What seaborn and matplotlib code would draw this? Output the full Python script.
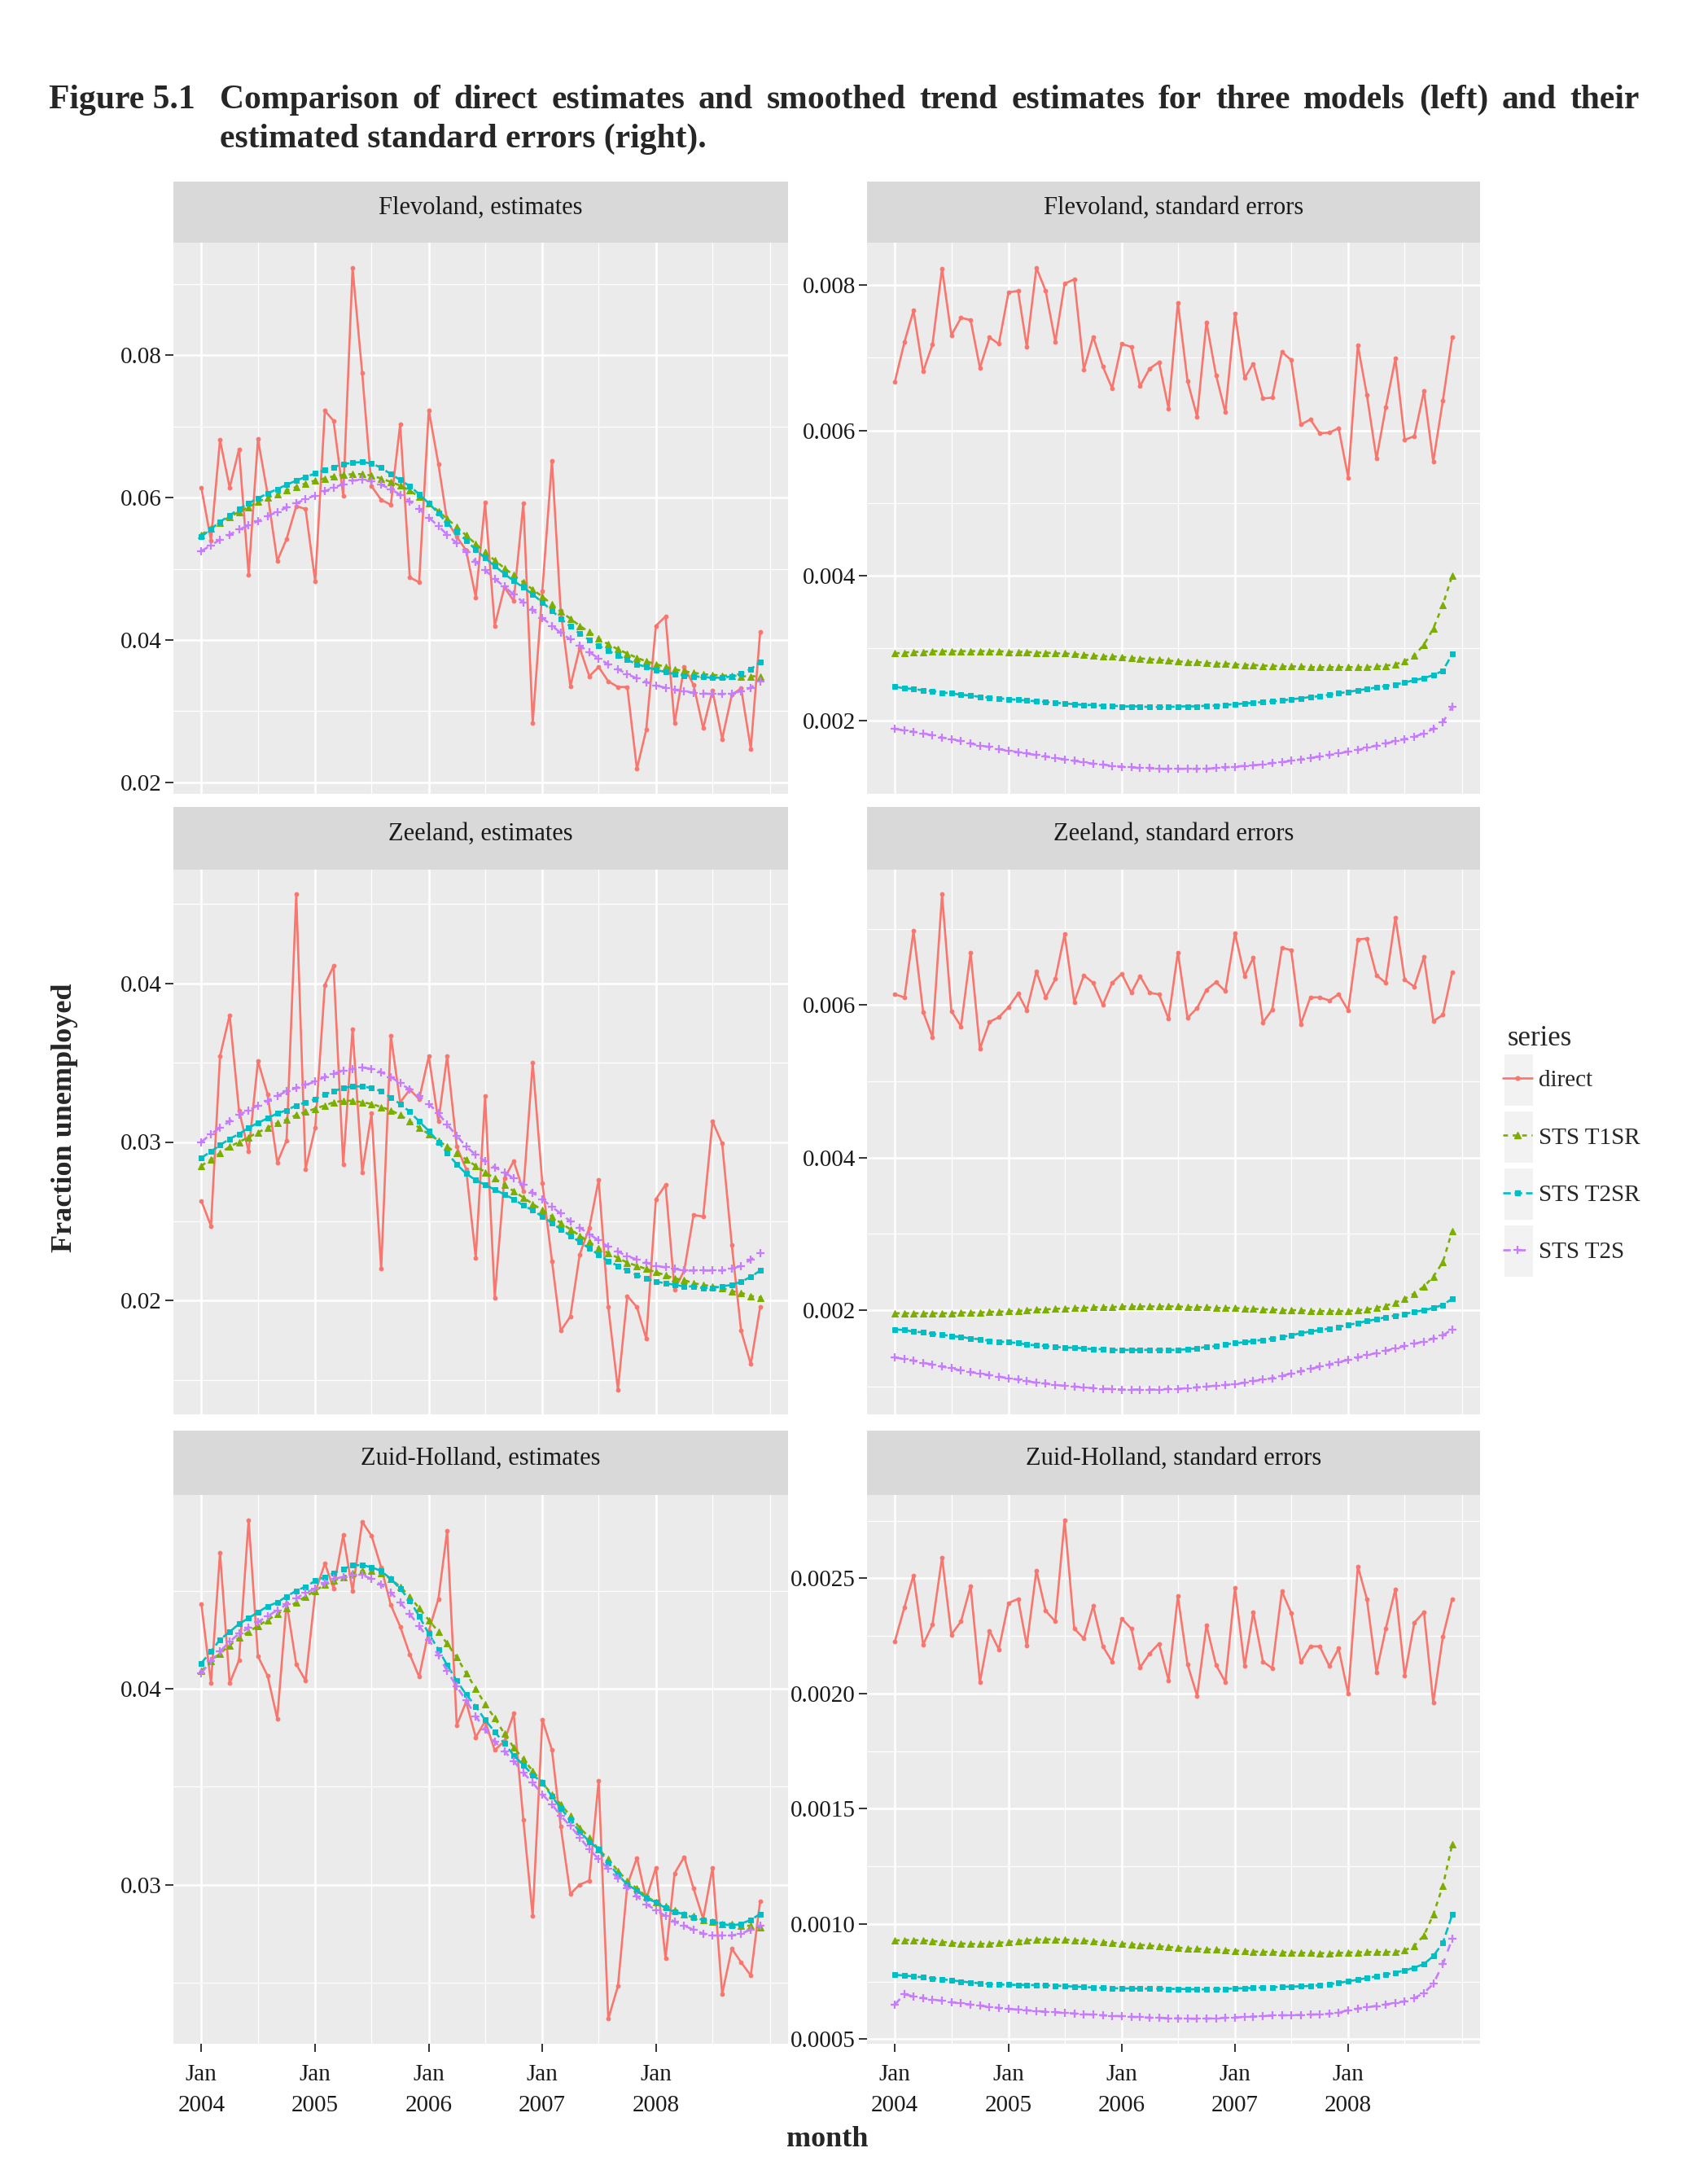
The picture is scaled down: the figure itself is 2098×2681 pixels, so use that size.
import matplotlib
matplotlib.use("Agg")
import matplotlib.pyplot as plt
from matplotlib.lines import Line2D
from matplotlib.patches import Rectangle
import seaborn as sns
import pandas as pd

W, H = 2098, 2681

months = pd.date_range("2004-01-01", periods=60, freq="MS")
series_names = ["direct", "STS T1SR", "STS T2SR", "STS T2S"]
series_colors = ["#F8766D", "#7CAE00", "#00BFC4", "#C77CFF"]

x_breaks = ["2004-01-01", "2005-01-01", "2006-01-01", "2007-01-01", "2008-01-01"]
x_labels = ["Jan\n2004", "Jan\n2005", "Jan\n2006", "Jan\n2007", "Jan\n2008"]
x_minor = ["2004-07-01", "2005-07-01", "2006-07-01", "2007-07-01", "2008-07-01", "2009-01-01"]

# ---- Flevoland ----
fle_est_direct = [0.0614, 0.0540, 0.0681, 0.0614, 0.0668, 0.0492, 0.0682, 0.0605, 0.0511, 0.0542,
                  0.0588, 0.0584, 0.0482, 0.0722, 0.0708, 0.0603, 0.0923, 0.0775, 0.0616, 0.0597,
                  0.0590, 0.0703, 0.0488, 0.0481, 0.0723, 0.0647, 0.0567, 0.0545, 0.0526, 0.0460,
                  0.0593, 0.0420, 0.0474, 0.0455, 0.0592, 0.0283, 0.0469, 0.0652, 0.0441, 0.0335,
                  0.0389, 0.0349, 0.0362, 0.0342, 0.0334, 0.0334, 0.0219, 0.0274, 0.0420, 0.0433,
                  0.0283, 0.0362, 0.0337, 0.0276, 0.0329, 0.0261, 0.0323, 0.0332, 0.0247, 0.0411]
fle_est_t1sr = [0.0548, 0.0557, 0.0565, 0.0573, 0.0580, 0.0587, 0.0594, 0.0600, 0.0605, 0.0610,
                0.0615, 0.0620, 0.0624, 0.0627, 0.0630, 0.0632, 0.0633, 0.0633, 0.0631, 0.0627,
                0.0622, 0.0617, 0.0610, 0.0601, 0.0592, 0.0581, 0.0570, 0.0559, 0.0547, 0.0535,
                0.0523, 0.0512, 0.0501, 0.0491, 0.0481, 0.0471, 0.0461, 0.0450, 0.0440, 0.0430,
                0.0420, 0.0411, 0.0402, 0.0394, 0.0387, 0.0381, 0.0375, 0.0370, 0.0366, 0.0362,
                0.0359, 0.0356, 0.0354, 0.0352, 0.0351, 0.0350, 0.0350, 0.0349, 0.0349, 0.0349]
fle_est_t2sr = [0.0545, 0.0556, 0.0566, 0.0575, 0.0584, 0.0592, 0.0599, 0.0606, 0.0612, 0.0618,
                0.0624, 0.0629, 0.0634, 0.0639, 0.0643, 0.0647, 0.0649, 0.0650, 0.0648, 0.0642,
                0.0633, 0.0625, 0.0616, 0.0605, 0.0592, 0.0578, 0.0564, 0.0552, 0.0540, 0.0527,
                0.0515, 0.0504, 0.0493, 0.0483, 0.0474, 0.0464, 0.0453, 0.0441, 0.0430, 0.0419,
                0.0409, 0.0400, 0.0392, 0.0385, 0.0378, 0.0372, 0.0366, 0.0362, 0.0358, 0.0355,
                0.0352, 0.0350, 0.0349, 0.0348, 0.0347, 0.0347, 0.0349, 0.0353, 0.0359, 0.0369]
fle_est_t2s = [0.0525, 0.0533, 0.0541, 0.0548, 0.0555, 0.0561, 0.0567, 0.0574, 0.0580, 0.0586,
               0.0592, 0.0598, 0.0603, 0.0609, 0.0614, 0.0619, 0.0624, 0.0625, 0.0623, 0.0618,
               0.0612, 0.0604, 0.0595, 0.0584, 0.0572, 0.0560, 0.0548, 0.0536, 0.0523, 0.0510,
               0.0498, 0.0486, 0.0475, 0.0464, 0.0453, 0.0442, 0.0431, 0.0420, 0.0410, 0.0401,
               0.0392, 0.0383, 0.0374, 0.0366, 0.0359, 0.0352, 0.0346, 0.0341, 0.0336, 0.0333,
               0.0330, 0.0328, 0.0326, 0.0325, 0.0324, 0.0324, 0.0325, 0.0328, 0.0333, 0.0342]

fle_se_direct = [0.00667, 0.00722, 0.00765, 0.00681, 0.00718, 0.00823, 0.00731, 0.00755, 0.00752, 0.00686,
                 0.00728, 0.00719, 0.00790, 0.00792, 0.00715, 0.00824, 0.00792, 0.00722, 0.00802, 0.00808,
                 0.00684, 0.00729, 0.00688, 0.00658, 0.00719, 0.00715, 0.00661, 0.00685, 0.00694, 0.00630,
                 0.00776, 0.00668, 0.00619, 0.00749, 0.00676, 0.00625, 0.00761, 0.00672, 0.00692, 0.00644,
                 0.00645, 0.00708, 0.00697, 0.00608, 0.00615, 0.00596, 0.00597, 0.00603, 0.00535, 0.00717,
                 0.00649, 0.00561, 0.00632, 0.00699, 0.00587, 0.00592, 0.00654, 0.00557, 0.00641, 0.00728]
fle_se_t1sr = [0.00293, 0.00294, 0.00295, 0.00295, 0.00296, 0.00296, 0.00296, 0.00296, 0.00296, 0.00296,
               0.00296, 0.00296, 0.00295, 0.00295, 0.00295, 0.00294, 0.00294, 0.00293, 0.00293, 0.00292,
               0.00291, 0.00290, 0.00289, 0.00289, 0.00288, 0.00287, 0.00286, 0.00285, 0.00284, 0.00283,
               0.00282, 0.00281, 0.00281, 0.00280, 0.00279, 0.00279, 0.00278, 0.00277, 0.00277, 0.00276,
               0.00276, 0.00275, 0.00275, 0.00275, 0.00274, 0.00274, 0.00274, 0.00274, 0.00274, 0.00274,
               0.00274, 0.00275, 0.00276, 0.00278, 0.00282, 0.00290, 0.00305, 0.00327, 0.00360, 0.00400]
fle_se_t2sr = [0.00247, 0.00245, 0.00244, 0.00242, 0.00241, 0.00239, 0.00238, 0.00236, 0.00235, 0.00233,
               0.00232, 0.00231, 0.00230, 0.00229, 0.00228, 0.00227, 0.00226, 0.00225, 0.00224, 0.00223,
               0.00222, 0.00222, 0.00221, 0.00221, 0.00220, 0.00220, 0.00220, 0.00219, 0.00219, 0.00219,
               0.00220, 0.00220, 0.00220, 0.00221, 0.00221, 0.00222, 0.00223, 0.00224, 0.00225, 0.00226,
               0.00227, 0.00228, 0.00230, 0.00231, 0.00233, 0.00234, 0.00236, 0.00238, 0.00240, 0.00242,
               0.00244, 0.00246, 0.00248, 0.00250, 0.00253, 0.00256, 0.00259, 0.00263, 0.00269, 0.00292]
fle_se_t2s = [0.00189, 0.00187, 0.00185, 0.00183, 0.00180, 0.00177, 0.00175, 0.00172, 0.00169, 0.00166,
              0.00164, 0.00161, 0.00159, 0.00157, 0.00155, 0.00153, 0.00151, 0.00149, 0.00147, 0.00145,
              0.00143, 0.00141, 0.00140, 0.00138, 0.00137, 0.00136, 0.00135, 0.00135, 0.00134, 0.00134,
              0.00134, 0.00134, 0.00134, 0.00134, 0.00135, 0.00136, 0.00137, 0.00138, 0.00139, 0.00140,
              0.00142, 0.00143, 0.00145, 0.00147, 0.00149, 0.00151, 0.00153, 0.00155, 0.00158, 0.00160,
              0.00163, 0.00166, 0.00169, 0.00172, 0.00175, 0.00178, 0.00183, 0.00189, 0.00198, 0.00220]

# ---- Zeeland ----
zee_est_direct = [0.0263, 0.0247, 0.0354, 0.0380, 0.0320, 0.0294, 0.0351, 0.0330, 0.0287, 0.0301,
                  0.0456, 0.0283, 0.0309, 0.0399, 0.0411, 0.0286, 0.0371, 0.0281, 0.0318, 0.0220,
                  0.0367, 0.0325, 0.0333, 0.0327, 0.0354, 0.0313, 0.0354, 0.0297, 0.0283, 0.0227,
                  0.0329, 0.0202, 0.0277, 0.0288, 0.0269, 0.0350, 0.0274, 0.0225, 0.0181, 0.0190,
                  0.0229, 0.0246, 0.0276, 0.0196, 0.0144, 0.0203, 0.0196, 0.0176, 0.0264, 0.0273,
                  0.0207, 0.0219, 0.0254, 0.0253, 0.0313, 0.0299, 0.0235, 0.0181, 0.0160, 0.0196]
zee_est_t1sr = [0.0285, 0.0289, 0.0293, 0.0297, 0.0300, 0.0303, 0.0306, 0.0309, 0.0312, 0.0314,
                0.0317, 0.0319, 0.0321, 0.0323, 0.0325, 0.0326, 0.0326, 0.0325, 0.0324, 0.0322,
                0.0320, 0.0317, 0.0313, 0.0309, 0.0305, 0.0301, 0.0297, 0.0293, 0.0289, 0.0285,
                0.0281, 0.0277, 0.0273, 0.0269, 0.0265, 0.0261, 0.0257, 0.0253, 0.0249, 0.0245,
                0.0241, 0.0237, 0.0233, 0.0230, 0.0227, 0.0224, 0.0222, 0.0220, 0.0218, 0.0216,
                0.0214, 0.0213, 0.0211, 0.0210, 0.0209, 0.0208, 0.0206, 0.0205, 0.0203, 0.0202]
zee_est_t2sr = [0.0290, 0.0294, 0.0298, 0.0302, 0.0305, 0.0309, 0.0312, 0.0315, 0.0318, 0.0320,
                0.0323, 0.0325, 0.0327, 0.0330, 0.0332, 0.0334, 0.0335, 0.0335, 0.0334, 0.0332,
                0.0328, 0.0324, 0.0319, 0.0313, 0.0307, 0.0300, 0.0293, 0.0286, 0.0280, 0.0276,
                0.0273, 0.0270, 0.0267, 0.0264, 0.0260, 0.0257, 0.0253, 0.0249, 0.0245, 0.0241,
                0.0237, 0.0233, 0.0229, 0.0225, 0.0222, 0.0219, 0.0216, 0.0214, 0.0212, 0.0211,
                0.0210, 0.0209, 0.0209, 0.0208, 0.0208, 0.0209, 0.0210, 0.0212, 0.0215, 0.0219]
zee_est_t2s = [0.0300, 0.0305, 0.0309, 0.0313, 0.0317, 0.0320, 0.0323, 0.0326, 0.0329, 0.0332,
               0.0334, 0.0336, 0.0338, 0.0341, 0.0343, 0.0345, 0.0346, 0.0347, 0.0346, 0.0344,
               0.0341, 0.0337, 0.0333, 0.0329, 0.0324, 0.0318, 0.0311, 0.0304, 0.0297, 0.0292,
               0.0288, 0.0284, 0.0281, 0.0277, 0.0273, 0.0268, 0.0264, 0.0259, 0.0255, 0.0250,
               0.0246, 0.0242, 0.0238, 0.0234, 0.0231, 0.0228, 0.0226, 0.0224, 0.0222, 0.0221,
               0.0220, 0.0219, 0.0219, 0.0219, 0.0219, 0.0219, 0.0220, 0.0222, 0.0226, 0.0230]

zee_se_direct = [0.00614, 0.00610, 0.00697, 0.00591, 0.00558, 0.00745, 0.00592, 0.00572, 0.00669, 0.00543,
                 0.00578, 0.00584, 0.00597, 0.00615, 0.00593, 0.00644, 0.00610, 0.00634, 0.00693, 0.00604,
                 0.00639, 0.00629, 0.00600, 0.00629, 0.00641, 0.00616, 0.00638, 0.00616, 0.00614, 0.00582,
                 0.00669, 0.00583, 0.00596, 0.00620, 0.00630, 0.00618, 0.00694, 0.00638, 0.00662, 0.00577,
                 0.00594, 0.00675, 0.00672, 0.00575, 0.00610, 0.00610, 0.00606, 0.00614, 0.00593, 0.00686,
                 0.00687, 0.00639, 0.00629, 0.00715, 0.00633, 0.00624, 0.00663, 0.00579, 0.00587, 0.00643]
zee_se_t1sr = [0.00196, 0.00196, 0.00196, 0.00196, 0.00196, 0.00196, 0.00196, 0.00197, 0.00197, 0.00197,
               0.00198, 0.00198, 0.00199, 0.00199, 0.00200, 0.00201, 0.00201, 0.00202, 0.00202, 0.00203,
               0.00203, 0.00204, 0.00204, 0.00204, 0.00205, 0.00205, 0.00205, 0.00205, 0.00205, 0.00205,
               0.00205, 0.00204, 0.00204, 0.00204, 0.00203, 0.00203, 0.00203, 0.00202, 0.00202, 0.00201,
               0.00201, 0.00200, 0.00200, 0.00200, 0.00199, 0.00199, 0.00199, 0.00199, 0.00199, 0.00200,
               0.00201, 0.00203, 0.00206, 0.00210, 0.00215, 0.00222, 0.00231, 0.00244, 0.00263, 0.00304]
zee_se_t2sr = [0.00175, 0.00174, 0.00172, 0.00171, 0.00169, 0.00168, 0.00166, 0.00165, 0.00163, 0.00162,
               0.00160, 0.00159, 0.00158, 0.00157, 0.00155, 0.00154, 0.00153, 0.00152, 0.00151, 0.00151,
               0.00150, 0.00149, 0.00149, 0.00148, 0.00148, 0.00148, 0.00148, 0.00148, 0.00148, 0.00148,
               0.00148, 0.00149, 0.00150, 0.00152, 0.00153, 0.00155, 0.00157, 0.00158, 0.00160, 0.00161,
               0.00163, 0.00165, 0.00167, 0.00170, 0.00172, 0.00174, 0.00176, 0.00178, 0.00181, 0.00183,
               0.00186, 0.00188, 0.00191, 0.00193, 0.00195, 0.00198, 0.00200, 0.00203, 0.00207, 0.00215]
zee_se_t2s = [0.00138, 0.00136, 0.00134, 0.00131, 0.00129, 0.00126, 0.00124, 0.00121, 0.00119, 0.00117,
              0.00115, 0.00113, 0.00111, 0.00109, 0.00107, 0.00105, 0.00104, 0.00102, 0.00101, 0.00100,
              0.00099, 0.00098, 0.00097, 0.00097, 0.00096, 0.00096, 0.00096, 0.00096, 0.00096, 0.00097,
              0.00097, 0.00098, 0.00099, 0.00100, 0.00101, 0.00102, 0.00103, 0.00105, 0.00107, 0.00109,
              0.00111, 0.00114, 0.00117, 0.00120, 0.00123, 0.00126, 0.00129, 0.00132, 0.00135, 0.00138,
              0.00141, 0.00144, 0.00147, 0.00150, 0.00153, 0.00156, 0.00159, 0.00163, 0.00167, 0.00175]

# ---- Zuid-Holland ----
zh_est_direct = [0.04433, 0.04028, 0.04693, 0.04028, 0.04145, 0.04861, 0.04165, 0.04065, 0.03847, 0.04437,
                 0.04125, 0.04040, 0.04492, 0.04639, 0.04512, 0.04784, 0.04498, 0.04851, 0.04780, 0.04619,
                 0.04427, 0.04317, 0.04175, 0.04060, 0.04296, 0.04458, 0.04804, 0.03813, 0.03933, 0.03752,
                 0.03833, 0.03686, 0.03732, 0.03873, 0.03329, 0.02839, 0.03843, 0.03686, 0.03298, 0.02952,
                 0.03000, 0.03020, 0.03530, 0.02315, 0.02482, 0.02996, 0.03137, 0.02925, 0.03087, 0.02623,
                 0.03057, 0.03141, 0.02980, 0.02825, 0.03087, 0.02442, 0.02673, 0.02603, 0.02536, 0.02915]
zh_est_t1sr = [0.0409, 0.0414, 0.0418, 0.0422, 0.0426, 0.0429, 0.0432, 0.0435, 0.0438, 0.0441,
               0.0444, 0.0447, 0.0450, 0.0453, 0.0455, 0.0457, 0.0459, 0.0460, 0.0460, 0.0459,
               0.0456, 0.0452, 0.0447, 0.0441, 0.0435, 0.0429, 0.0423, 0.0416, 0.0408, 0.0400,
               0.0392, 0.0385, 0.0377, 0.0370, 0.0364, 0.0358, 0.0352, 0.0346, 0.0341, 0.0335,
               0.0329, 0.0324, 0.0318, 0.0313, 0.0307, 0.0302, 0.0298, 0.0294, 0.0291, 0.0289,
               0.0287, 0.0285, 0.0284, 0.0282, 0.0281, 0.0280, 0.0280, 0.0279, 0.0279, 0.0278]
zh_est_t2sr = [0.0413, 0.0419, 0.0425, 0.0429, 0.0433, 0.0436, 0.0439, 0.0442, 0.0444, 0.0447,
               0.0450, 0.0452, 0.0455, 0.0457, 0.0459, 0.0461, 0.0463, 0.0463, 0.0462, 0.0460,
               0.0456, 0.0451, 0.0445, 0.0437, 0.0428, 0.0420, 0.0412, 0.0404, 0.0397, 0.0391,
               0.0384, 0.0378, 0.0372, 0.0366, 0.0361, 0.0356, 0.0352, 0.0345, 0.0339, 0.0333,
               0.0327, 0.0322, 0.0318, 0.0311, 0.0305, 0.0300, 0.0297, 0.0293, 0.0291, 0.0288,
               0.0286, 0.0285, 0.0283, 0.0282, 0.0281, 0.0280, 0.0279, 0.0280, 0.0282, 0.0285]
zh_est_t2s = [0.0408, 0.0414, 0.0419, 0.0424, 0.0428, 0.0431, 0.0434, 0.0437, 0.0440, 0.0443,
              0.0446, 0.0449, 0.0451, 0.0454, 0.0456, 0.0457, 0.0458, 0.0458, 0.0456, 0.0453,
              0.0449, 0.0444, 0.0438, 0.0432, 0.0425, 0.0417, 0.0409, 0.0401, 0.0394, 0.0386,
              0.0379, 0.0373, 0.0368, 0.0363, 0.0357, 0.0352, 0.0346, 0.0341, 0.0335, 0.0330,
              0.0324, 0.0318, 0.0313, 0.0308, 0.0303, 0.0298, 0.0294, 0.0290, 0.0287, 0.0284,
              0.0281, 0.0279, 0.0277, 0.0275, 0.0274, 0.0274, 0.0274, 0.0275, 0.0277, 0.0279]

zh_se_direct = [0.002227, 0.002376, 0.002514, 0.002213, 0.002299, 0.002591, 0.002256, 0.002313, 0.002466, 0.002050,
                0.002273, 0.002192, 0.002393, 0.002411, 0.002210, 0.002534, 0.002359, 0.002313, 0.002754, 0.002282,
                0.002239, 0.002380, 0.002205, 0.002139, 0.002325, 0.002282, 0.002113, 0.002174, 0.002217, 0.002058,
                0.002423, 0.002127, 0.001990, 0.002296, 0.002124, 0.002050, 0.002459, 0.002119, 0.002354, 0.002139,
                0.002110, 0.002445, 0.002351, 0.002136, 0.002205, 0.002205, 0.002119, 0.002196, 0.001998, 0.002552,
                0.002411, 0.002093, 0.002282, 0.002454, 0.002076, 0.002308, 0.002354, 0.001961, 0.002247, 0.002411]
zh_se_t1sr = [0.000928, 0.000930, 0.000930, 0.000928, 0.000926, 0.000922, 0.000918, 0.000915, 0.000913, 0.000913,
              0.000915, 0.000918, 0.000922, 0.000926, 0.000929, 0.000932, 0.000933, 0.000933, 0.000932, 0.000930,
              0.000927, 0.000924, 0.000921, 0.000918, 0.000915, 0.000912, 0.000909, 0.000906, 0.000903, 0.000900,
              0.000897, 0.000894, 0.000892, 0.000890, 0.000888, 0.000886, 0.000884, 0.000882, 0.000880, 0.000879,
              0.000878, 0.000877, 0.000876, 0.000875, 0.000874, 0.000873, 0.000873, 0.000874, 0.000876, 0.000877,
              0.000878, 0.000878, 0.000878, 0.000879, 0.000885, 0.000905, 0.000950, 0.001040, 0.001165, 0.001345]
zh_se_t2sr = [0.000779, 0.000776, 0.000772, 0.000768, 0.000764, 0.000760, 0.000755, 0.000750, 0.000746, 0.000742,
              0.000739, 0.000737, 0.000736, 0.000735, 0.000735, 0.000734, 0.000733, 0.000732, 0.000730, 0.000728,
              0.000726, 0.000724, 0.000722, 0.000721, 0.000720, 0.000720, 0.000719, 0.000719, 0.000719, 0.000718,
              0.000718, 0.000717, 0.000716, 0.000716, 0.000717, 0.000718, 0.000720, 0.000721, 0.000722, 0.000724,
              0.000725, 0.000727, 0.000728, 0.000729, 0.000731, 0.000734, 0.000738, 0.000744, 0.000751, 0.000758,
              0.000765, 0.000772, 0.000780, 0.000789, 0.000798, 0.000810, 0.000826, 0.000860, 0.000918, 0.001040]
zh_se_t2s = [0.000650, 0.000695, 0.000685, 0.000678, 0.000672, 0.000666, 0.000660, 0.000655, 0.000650, 0.000645,
             0.000640, 0.000635, 0.000631, 0.000628, 0.000625, 0.000622, 0.000619, 0.000616, 0.000614, 0.000611,
             0.000608, 0.000606, 0.000603, 0.000601, 0.000599, 0.000597, 0.000595, 0.000593, 0.000592, 0.000591,
             0.000590, 0.000589, 0.000588, 0.000589, 0.000590, 0.000592, 0.000594, 0.000596, 0.000598, 0.000600,
             0.000602, 0.000603, 0.000604, 0.000605, 0.000606, 0.000608, 0.000610, 0.000614, 0.000626, 0.000632,
             0.000638, 0.000644, 0.000651, 0.000657, 0.000664, 0.000678, 0.000700, 0.000740, 0.000825, 0.000935]

panel_titles = ["Flevoland, estimates", "Flevoland, standard errors",
                "Zeeland, estimates", "Zeeland, standard errors",
                "Zuid-Holland, estimates", "Zuid-Holland, standard errors"]
panel_series = [
    [fle_est_direct, fle_est_t1sr, fle_est_t2sr, fle_est_t2s],
    [fle_se_direct, fle_se_t1sr, fle_se_t2sr, fle_se_t2s],
    [zee_est_direct, zee_est_t1sr, zee_est_t2sr, zee_est_t2s],
    [zee_se_direct, zee_se_t1sr, zee_se_t2sr, zee_se_t2s],
    [zh_est_direct, zh_est_t1sr, zh_est_t2sr, zh_est_t2s],
    [zh_se_direct, zh_se_t1sr, zh_se_t2sr, zh_se_t2s],
]

# y breaks for each panel (labels as printed)
y_major = [[0.02, 0.04, 0.06, 0.08], [0.002, 0.004, 0.006, 0.008],
           [0.02, 0.03, 0.04], [0.002, 0.004, 0.006],
           [0.03, 0.04], [0.0005, 0.0010, 0.0015, 0.0020, 0.0025]]
y_labels = [["0.02", "0.04", "0.06", "0.08"], ["0.002", "0.004", "0.006", "0.008"],
            ["0.02", "0.03", "0.04"], ["0.002", "0.004", "0.006"],
            ["0.03", "0.04"], ["0.0005", "0.0010", "0.0015", "0.0020", "0.0025"]]
y_minor = [[0.03, 0.05, 0.07, 0.09], [0.001, 0.003, 0.005, 0.007],
           [0.015, 0.025, 0.035, 0.045], [0.001, 0.003, 0.005, 0.007],
           [0.025, 0.035, 0.045], [0.00075, 0.00125, 0.00175, 0.00225, 0.00275]]

rows = []
for title, arrays in zip(panel_titles, panel_series):
    for name, vals in zip(series_names, arrays):
        for m, v in zip(months, vals):
            rows.append({"panel": title, "series": name, "month": m, "value": v})
df = pd.DataFrame(rows)

sns.set_theme(style="darkgrid", rc={"axes.facecolor": "#EBEBEB", "grid.color": "white"})
plt.rcParams["font.family"] = ["Liberation Serif", "DejaVu Serif"]

line_styles = {
    "direct": dict(linestyle="-", marker="o", markersize=3.4),
    "STS T1SR": dict(linestyle=(0, (2.2, 2.2)), marker="^", markersize=5.2),
    "STS T2SR": dict(linestyle=(0, (3.5, 1.8)), marker="s", markersize=4.4),
    "STS T2S": dict(linestyle=(0, (3.5, 3.5)), marker="+", markersize=7.5, markeredgewidth=1.6),
}
LW = 1.9

fig = plt.figure(figsize=(W / 100, H / 100), dpi=100)


def frac_rect(x0, y0, x1, y1):
    return [x0 / W, 1 - y1 / H, (x1 - x0) / W, (y1 - y0) / H]


col_x = [(213, 968), (1065, 1818)]
row_y = [(223, 298, 975), (991, 1068, 1737), (1757, 1836, 2510)]

span = months[-1] - months[0]
xlim = (months[0] - span * 0.05, months[-1] + span * 0.05)

for k, title in enumerate(panel_titles):
    r, c = divmod(k, 2)
    x0, x1 = col_x[c]
    st, sb, pb = row_y[r]

    sax = fig.add_axes(frac_rect(x0, st, x1, sb))
    sax.set_facecolor("#D9D9D9")
    sax.set_xticks([])
    sax.set_yticks([])
    sax.grid(False)
    for s in sax.spines.values():
        s.set_visible(False)
    sax.text(0.5, 0.57, title, ha="center", va="center", fontsize=22, color="#1A1A1A")

    ax = fig.add_axes(frac_rect(x0, sb, x1, pb))
    sub = df[df["panel"] == title]
    for name, color in zip(series_names, series_colors):
        sns.lineplot(data=sub[sub["series"] == name], x="month", y="value", ax=ax,
                     color=color, linewidth=LW, markeredgecolor=color,
                     **line_styles[name])

    vals = sub["value"]
    rng = vals.max() - vals.min()
    ax.set_ylim(vals.min() - 0.05 * rng, vals.max() + 0.05 * rng)
    ax.set_xlim(*xlim)
    ax.set_xlabel("")
    ax.set_ylabel("")
    for s in ax.spines.values():
        s.set_visible(False)

    ax.set_yticks(y_major[k])
    ax.set_yticklabels(y_labels[k])
    ax.set_yticks(y_minor[k], minor=True)
    ax.set_xticks(pd.to_datetime(x_breaks))
    ax.set_xticks(pd.to_datetime(x_minor), minor=True)
    ax.grid(which="major", color="white", linewidth=1.9)
    ax.grid(which="minor", color="white", linewidth=0.9)
    ax.set_axisbelow(True)

    ax.tick_params(axis="y", which="major", left=True, length=7, width=1.4, color="#333333",
                   labelsize=21, labelcolor="#1A1A1A", pad=3)
    ax.tick_params(which="minor", length=0)
    if r == 2:
        ax.set_xticklabels(x_labels, linespacing=1.6)
        ax.tick_params(axis="x", which="major", bottom=True, length=7, width=1.4, color="#333333",
                       labelsize=21, labelcolor="#1A1A1A", pad=11)
    else:
        ax.tick_params(axis="x", which="major", bottom=False, labelbottom=False)

# axis titles
fig.text(80 / W, 1 - 1373 / H, "Fraction unemployed", rotation=90, ha="center", va="center",
         fontsize=26, fontweight="bold")
fig.text(1016 / W, 1 - 2628 / H, "month", ha="center", va="center", fontsize=26, fontweight="bold")

# legend
fig.text(1852 / W, 1 - 1276 / H, "series", ha="left", va="center", fontsize=25)
handles = [Line2D([0], [0], color=col, linewidth=LW, markeredgecolor=col, **line_styles[n])
           for n, col in zip(series_names, series_colors)]
for yb in [1295, 1365, 1435, 1505]:
    fig.add_artist(Rectangle((1848 / W, 1 - (yb + 63) / H), 35 / W, 63 / H,
                             transform=fig.transFigure, facecolor="#F2F2F2", edgecolor="none", zorder=1))
leg = fig.legend(handles, series_names, loc="upper left",
                 bbox_to_anchor=(1846 / W, 1 - 1314 / H), frameon=False, fontsize=21,
                 handlelength=1.25, handletextpad=0.25, labelspacing=1.5,
                 borderpad=0, borderaxespad=0)
leg.set_zorder(5)

# title, justified first line
title_kw = dict(fontsize=30, fontweight="bold", va="center")
fig.text(60 / W, 1 - 123 / H, "Figure 5.1", **title_kw)
title_line1 = "Comparison of direct estimates and smoothed trend estimates for three models (left) and their"
title_line2 = "estimated standard errors (right)."
renderer = fig.canvas.get_renderer()
words = title_line1.split()
texts = [fig.text(0, 1 - 123 / H, w, **title_kw) for w in words]
widths = [t.get_window_extent(renderer).width for t in texts]
left, right = 270, 2014
gap = (right - left - sum(widths)) / (len(words) - 1)
xpos = left
for t, w in zip(texts, widths):
    t.set_x(xpos / W)
    xpos += w + gap
fig.text(270 / W, 1 - 171 / H, title_line2, **title_kw)

fig.savefig("out.png", dpi=100)
